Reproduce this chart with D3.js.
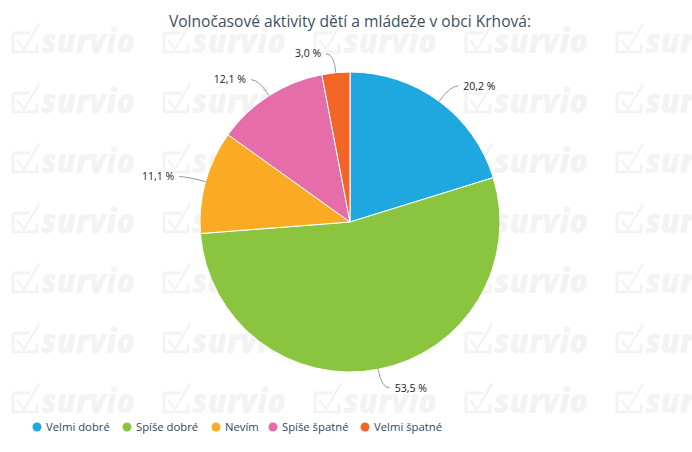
<!DOCTYPE html>
<html><head><meta charset="utf-8">
<script src="https://cdn.jsdelivr.net/npm/d3@7"></script>
<style>body{margin:0;background:#fff;} svg{display:block;}</style>
</head><body>
<script>
const title = "Volnočasové aktivity dětí a mládeže v obci Krhová:";
const categories = ["Velmi dobré", "Spíše dobré", "Nevím", "Spíše špatné", "Velmi špatné"];
const values = [20.2, 53.5, 11.1, 12.1, 3.0];
const valueLabels = ["20,2 %", "53,5 %", "11,1 %", "12,1 %", "3,0 %"];
const colors = ["#1fa8e0", "#8bc53f", "#fbab23", "#e76daa", "#f26526"];
const watermarkText = "survio";

const W = 692, H = 452;
const svg = d3.select("body").append("svg").attr("width", W).attr("height", H);
svg.append("rect").attr("width", W).attr("height", H).attr("fill", "#fff");

// watermark grid
const wmCols = d3.range(5).map(i => 12 + i * 151);
const wmRows = d3.range(7).map(i => 53 + i * 60);
const wm = svg.append("g").attr("fill", "#f3f3f3").attr("stroke", "#f3f3f3");
wmRows.forEach(y => wmCols.forEach(x => {
  const g = wm.append("g").attr("transform", `translate(${x},${y})`);
  g.append("path").attr("d", "M1,-20 H18 M1,-20 V-1 H25 V-9").attr("fill", "none").attr("stroke-width", 3);
  g.append("path").attr("d", "M6,-14 L12,-6 L26,-30 L28,-28 L12,-2 L4,-12 Z").attr("stroke", "none");
  g.append("text").attr("x", 29).attr("y", 0).attr("stroke", "none")
    .attr("font-family", "Open Sans, sans-serif").attr("font-weight", 800).attr("font-style", "italic")
    .attr("font-size", 34).attr("textLength", 94).attr("lengthAdjust", "spacingAndGlyphs")
    .text(watermarkText);
}));

// title
svg.append("text").attr("x", 350).attr("y", 27).attr("text-anchor", "middle")
  .attr("font-family", "Open Sans, sans-serif").attr("font-size", 15.6).attr("fill", "#3d5061")
  .text(title);

// pie
const cx = 350, cy = 222, r = 150;
const pie = d3.pie().sort(null).value(d => d)(values);
const arc = d3.arc().innerRadius(0).outerRadius(r);
const g = svg.append("g").attr("transform", `translate(${cx},${cy})`);
g.selectAll("path.slice").data(pie).join("path").attr("class", "slice")
  .attr("d", arc).attr("fill", (d, i) => colors[i]).attr("stroke", "#fff").attr("stroke-width", 1);

// labels + connectors
const labDist = r + 19;
pie.forEach((d, i) => {
  const a = (d.startAngle + d.endAngle) / 2;
  const sx = Math.sin(a), sy = -Math.cos(a);
  const side = sx >= 0 ? 1 : -1;
  const ex = r * sx, ey = r * sy;
  const ax = labDist * sx, ay = labDist * sy;
  const endX = ax + side * 8;
  g.append("path")
    .attr("d", `M${ex},${ey} Q${ax},${ay} ${endX},${ay}`)
    .attr("fill", "none").attr("stroke", "#999").attr("stroke-width", 1);
  g.append("text").attr("x", ax + side * 13).attr("y", ay).attr("dy", "0.35em")
    .attr("text-anchor", side > 0 ? "start" : "end")
    .attr("font-family", "Open Sans, sans-serif").attr("font-size", 10.5).attr("fill", "#222")
    .text(valueLabels[i]);
});

// legend
const legX = [37, 127, 216, 273, 365];
const lg = svg.append("g").attr("transform", "translate(0,427)");
categories.forEach((c, i) => {
  lg.append("circle").attr("cx", legX[i]).attr("cy", 0).attr("r", 4.5).attr("fill", colors[i]);
  lg.append("text").attr("x", legX[i] + 9).attr("y", 0).attr("dy", "0.35em")
    .attr("font-family", "Open Sans, sans-serif").attr("font-size", 11.3).attr("fill", "#33475b")
    .text(c);
});
</script>
</body></html>
